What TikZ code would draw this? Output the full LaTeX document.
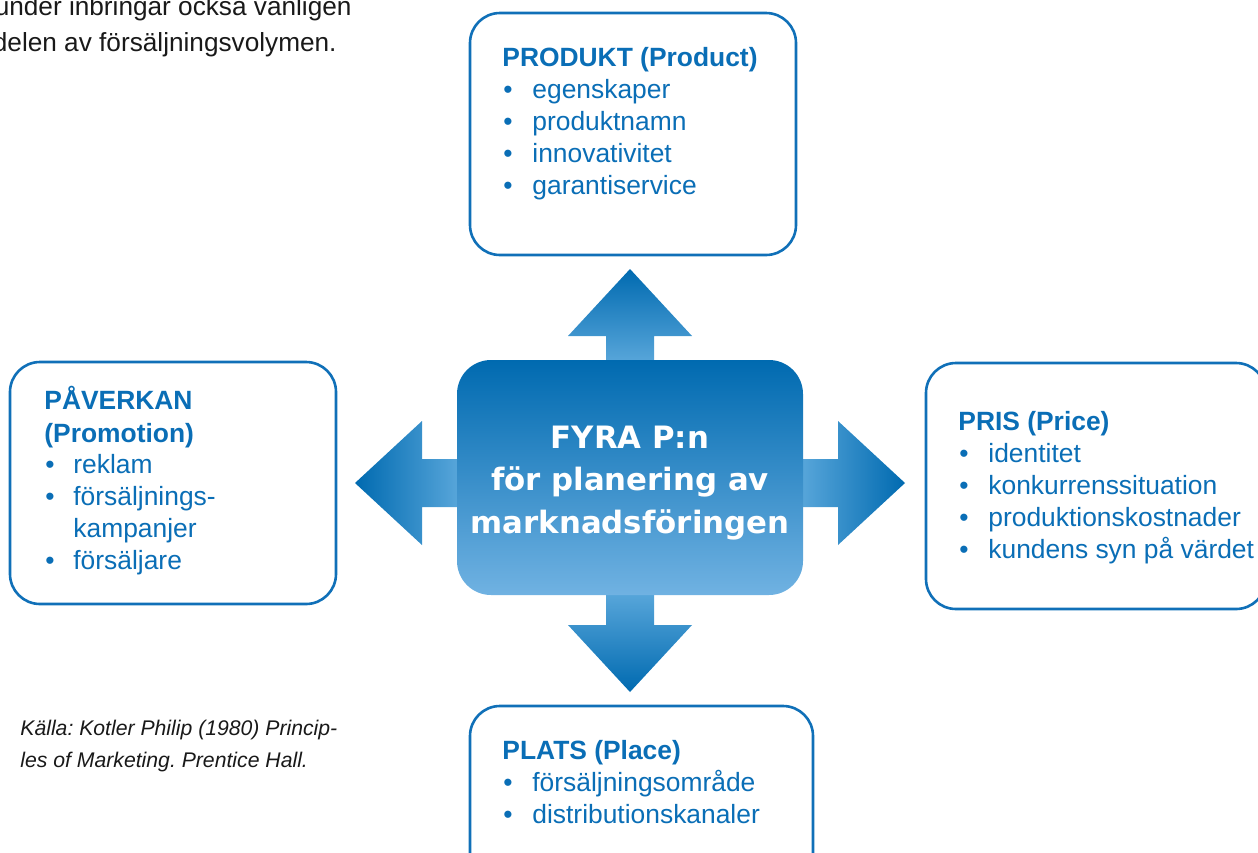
\documentclass[tikz,border=0pt]{standalone}
\usepackage{fontspec}
\setmainfont{Liberation Sans}
\newfontfamily\heavyfont{DejaVu Sans}
\frenchspacing
\definecolor{txtblue}{RGB}{10,110,182}
\definecolor{edgeblue}{RGB}{16,112,184}
\definecolor{deepblue}{RGB}{0,106,176}
\definecolor{midblue}{RGB}{0,140,206}
\definecolor{paleblue}{RGB}{112,178,226}
\definecolor{shaftblue}{RGB}{88,166,218}
\definecolor{inkgrey}{RGB}{25,25,25}
\begin{document}
\begin{tikzpicture}[x=0.5pt,y=-0.5pt,
  panel/.style={draw=edgeblue, line width=1.3pt, rounded corners=15pt, fill=white, inner sep=0pt},
  hub/.style={rounded corners=17pt, inner sep=0pt, top color=deepblue, middle color=midblue, bottom color=paleblue},
  hubtxt/.style={anchor=base, inner sep=0pt, text=white, font=\heavyfont\bfseries\fontsize{15.4}{20}\selectfont},
  ttl/.style={anchor=base west, inner sep=0pt, text=txtblue, font=\bfseries\fontsize{13.2}{16}\selectfont},
  itm/.style={anchor=base west, inner sep=0pt, text=txtblue, font=\fontsize{13.2}{16}\selectfont},
  bul/.style={anchor=base, inner sep=0pt, text=txtblue, font=\fontsize{13.2}{16}\selectfont},
  prose/.style={anchor=base east, inner sep=0pt, text=inkgrey, font=\fontsize{13.1}{18}\selectfont},
  cite/.style={anchor=base west, inner sep=0pt, text=inkgrey, font=\itshape\fontsize{10.6}{16}\selectfont},
]
\useasboundingbox (0,0) rectangle (1258,852);
\clip (0,0) rectangle (1258,852);

% running text from the page above
\node[prose] (prose1) at (352,15) {under inbringar också vanligen};
\node[prose] (prose2) at (337,51) {delen av försäljningsvolymen.};

% four arrows out of the hub
\path[top color=deepblue, middle color=midblue, bottom color=shaftblue]
  (606,362) -- (606,336) -- (568,336) -- (630,269) -- (692,336) -- (654,336) -- (654,362) -- cycle;
\path[top color=shaftblue, middle color=midblue, bottom color=deepblue]
  (606,593) -- (606,625) -- (568,625) -- (630,692) -- (692,625) -- (654,625) -- (654,593) -- cycle;
\path[left color=deepblue, middle color=midblue, right color=shaftblue]
  (459,459) -- (422,459) -- (422,421) -- (355,483) -- (422,545) -- (422,507) -- (459,507) -- cycle;
\path[left color=shaftblue, middle color=midblue, right color=deepblue]
  (801,459) -- (838,459) -- (838,421) -- (905,483) -- (838,545) -- (838,507) -- (801,507) -- cycle;

% central hub
\node[hub, minimum width=173pt, minimum height=117.5pt] (hub) at (630,477.5) {};
\node[hubtxt] (hub1) at (630,448) {FYRA P:n};
\node[hubtxt] (hub2) at (630,490) {för planering av};
\node[hubtxt] (hub3) at (630,533) {marknadsföringen};

% PRODUKT
\node[panel, minimum width=163pt, minimum height=121pt] (produkt) at (633,134) {};
\node[ttl] (produkt-t) at (502,66) {PRODUKT (Product)};
\foreach \t [count=\k] in {egenskaper,produktnamn,innovativitet,garantiservice}{
  \node[bul] (produkt-b\k) at (508,{66+32*\k}) {•};
  \node[itm] (produkt-i\k) at (532,{66+32*\k}) {\t};
}

% PÅVERKAN
\node[panel, minimum width=163pt, minimum height=121pt] (paverkan) at (173,483) {};
\node[ttl] (paverkan-t1) at (44,409) {PÅVERKAN};
\node[ttl] (paverkan-t2) at (44,442) {(Promotion)};
\node[bul] (paverkan-b1) at (50,473) {•};
\node[itm] (paverkan-i1) at (73,473) {reklam};
\node[bul] (paverkan-b2) at (50,505) {•};
\node[itm] (paverkan-i2) at (73,505) {försäljnings-};
\node[itm] (paverkan-i3) at (73,537) {kampanjer};
\node[bul] (paverkan-b4) at (50,569) {•};
\node[itm] (paverkan-i4) at (73,569) {försäljare};

% PRIS
\node[panel, minimum width=170pt, minimum height=123pt] (pris) at (1096,486) {};
\node[ttl] (pris-t) at (958,430) {PRIS (Price)};
\foreach \t [count=\k] in {identitet,konkurrenssituation,produktionskostnader,kundens syn på värdet}{
  \node[bul] (pris-b\k) at (964,{430+32*\k}) {•};
  \node[itm] (pris-i\k) at (988,{430+32*\k}) {\t};
}

% PLATS
\node[panel, minimum width=171.5pt, minimum height=121pt] (plats) at (641.5,827) {};
\node[ttl] (plats-t) at (502,759) {PLATS (Place)};
\foreach \t [count=\k] in {försäljningsområde,distributionskanaler}{
  \node[bul] (plats-b\k) at (508,{759+32*\k}) {•};
  \node[itm] (plats-i\k) at (532,{759+32*\k}) {\t};
}

% source
\node[cite] (cite1) at (20,735) {Källa: Kotler Philip (1980) Princip-};
\node[cite] (cite2) at (20,767) {les of Marketing. Prentice Hall.};
\end{tikzpicture}
\end{document}
